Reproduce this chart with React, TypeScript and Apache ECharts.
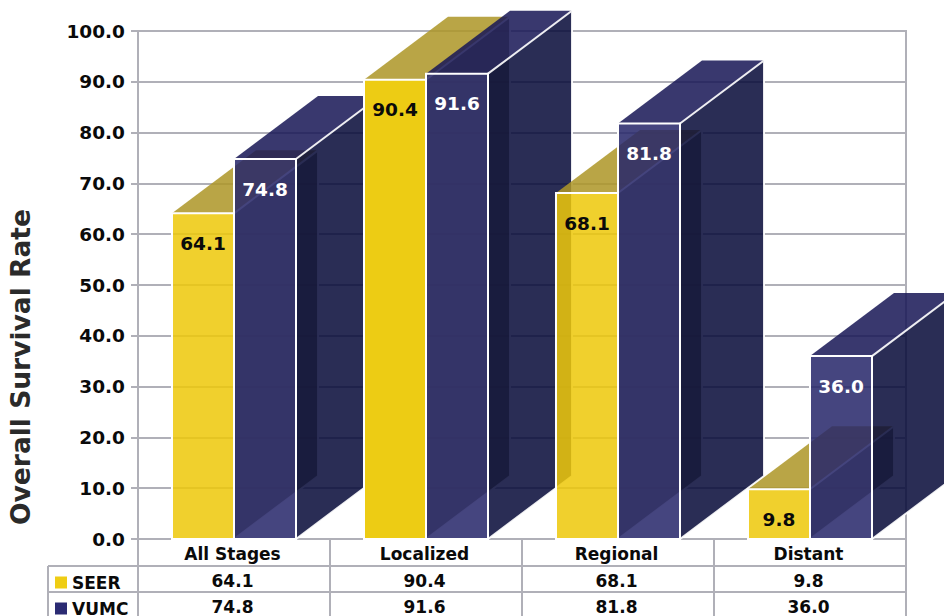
import React, { useEffect, useRef } from "react";
import * as echarts from "echarts";

const categories = ["All Stages", "Localized", "Regional", "Distant"];
const seerValues = [64.1, 90.4, 68.1, 9.8];
const vumcValues = [74.8, 91.6, 81.8, 36.0];
const yTicks = [0, 100, 10];

const FONT = '"DejaVu Sans", sans-serif';
const GRID = "#b0b0b8";
const DEPTH_X = 84;
const DEPTH_Y = 63;
const BAR_W = 62;
const OPAQUE_SEER_FRONT = "#edcc14";

type Palette = { front: string; side: string; top: string; ink: string };
const seerPalette: Palette = {
  front: "rgba(237,200,11,0.86)",
  side: "rgba(118,115,65,0.86)",
  top: "rgba(174,150,40,0.86)",
  ink: "#0a0a0a",
};
const vumcPalette: Palette = {
  front: "rgba(39,38,106,0.86)",
  side: "rgba(7,11,57,0.86)",
  top: "rgba(25,23,86,0.86)",
  ink: "#ffffff",
};

// A translucent cuboid standing on the baseline, drawn as top, side and front faces.
function boxRenderer(values: number[], palette: Palette, slot: number) {
  return (params: any, api: any) => {
    const i = params.dataIndex;
    const [cx, y] = api.coord([i, values[i]]);
    const [, y0] = api.coord([i, 0]);
    const x0 = cx + (slot - 1) * BAR_W;
    const x1 = x0 + BAR_W;
    const base = i * 10 + slot * 5;
    const poly = (points: number[][], fill: string, z: number, stroke?: string) => ({
      type: "polygon",
      z2: base + z,
      shape: { points },
      style: { fill, stroke: stroke || "none", lineWidth: stroke ? 2 : 0 },
    });
    // The Localized SEER column has a solid face, so nothing shows through it.
    const front = slot === 0 && i === 1 ? OPAQUE_SEER_FRONT : palette.front;
    return {
      type: "group",
      children: [
        poly(
          [[x0, y], [x1, y], [x1 + DEPTH_X, y - DEPTH_Y], [x0 + DEPTH_X, y - DEPTH_Y]],
          palette.top,
          0
        ),
        poly(
          [[x1, y], [x1 + DEPTH_X, y - DEPTH_Y], [x1 + DEPTH_X, y0 - DEPTH_Y], [x1, y0]],
          palette.side,
          1,
          "rgba(255,255,255,0.9)"
        ),
        poly([[x0, y], [x1, y], [x1, y0], [x0, y0]], front, 2, "#ffffff"),
        {
          type: "text",
          z2: 200,
          style: {
            text: values[i].toFixed(1),
            x: (x0 + x1) / 2,
            y: y + 30,
            align: "center",
            verticalAlign: "middle",
            fill: palette.ink,
            font: `bold 18.5px ${FONT}`,
          },
        },
      ],
    };
  };
}

// Data rows under the plot, aligned with the category axis.
function tableRowRenderer(params: any, api: any) {
  const i = params.dataIndex;
  const [cx, y0] = api.coord([i, 0]);
  const cell = (text: string, dy: number) => ({
    type: "text",
    style: {
      text,
      x: cx - 1.5,
      y: y0 + dy,
      align: "center",
      verticalAlign: "middle",
      fill: "#0a0a0a",
      font: `bold 17px ${FONT}`,
    },
  });
  return {
    type: "group",
    children: [cell(seerValues[i].toFixed(1), 42), cell(vumcValues[i].toFixed(1), 68)],
  };
}

const tableLine = (x1: number, y1: number, x2: number, y2: number) => ({
  type: "line",
  shape: { x1, y1, x2, y2 },
  style: { stroke: GRID, lineWidth: 2 },
  silent: true,
});

export default function App() {
  const ref = useRef<HTMLDivElement>(null);

  useEffect(() => {
    const chart = echarts.init(ref.current!, undefined, { renderer: "svg" });
    const indices = categories.map((_, i) => i);
    chart.setOption({
      animation: false,
      backgroundColor: "#ffffff",
      textStyle: { fontFamily: FONT },
      grid: {
        left: 138,
        right: 38,
        top: 31,
        bottom: 77,
        show: true,
        borderColor: GRID,
        borderWidth: 2,
        backgroundColor: "transparent",
      },
      legend: {
        data: ["SEER", "VUMC"],
        orient: "vertical",
        left: 55,
        top: 574,
        height: 120,
        itemWidth: 12,
        itemHeight: 12,
        itemGap: 9,
        icon: "rect",
        selectedMode: false,
        padding: 0,
        textStyle: { color: "#0a0a0a", fontWeight: "bold", fontSize: 17, fontFamily: FONT },
      },
      xAxis: {
        type: "category",
        data: categories,
        axisLine: { lineStyle: { color: GRID, width: 2 } },
        axisTick: { show: false },
        axisLabel: {
          color: "#0a0a0a",
          fontWeight: "bold",
          fontSize: 17,
          fontFamily: FONT,
          margin: 6,
          padding: [0, 3, 0, 0],
        },
      },
      yAxis: {
        type: "value",
        min: yTicks[0],
        max: yTicks[1],
        interval: yTicks[2],
        axisLine: { show: true, lineStyle: { color: GRID, width: 2 } },
        axisTick: { show: true, length: 7, lineStyle: { color: GRID, width: 2 } },
        splitLine: { lineStyle: { color: GRID, width: 2 } },
        axisLabel: {
          color: "#0a0a0a",
          fontWeight: "bold",
          fontSize: 18.5,
          fontFamily: FONT,
          margin: 13,
          formatter: (v: number) => v.toFixed(1),
        },
      },
      graphic: [
        {
          type: "text",
          x: 20,
          y: 367,
          rotation: Math.PI / 2,
          style: {
            text: "Overall Survival Rate",
            align: "center",
            verticalAlign: "middle",
            fill: "#2a2a2a",
            font: `bold 26.5px ${FONT}`,
          },
        },
        tableLine(48, 566, 906, 566),
        tableLine(48, 592, 906, 592),
        tableLine(48, 566, 48, 616),
        ...[138, 330, 522, 714, 906].map((x) => tableLine(x, 539, x, 616)),
      ],
      series: [
        {
          name: "SEER",
          type: "custom",
          renderItem: boxRenderer(seerValues, seerPalette, 0),
          data: seerValues.map((v, i) => [i, v]),
          itemStyle: { color: "#efcd14" },
          clip: false,
        },
        {
          name: "VUMC",
          type: "custom",
          renderItem: boxRenderer(vumcValues, vumcPalette, 1),
          data: vumcValues.map((v, i) => [i, v]),
          itemStyle: { color: "#2b2b73" },
          clip: false,
        },
        {
          name: "table",
          type: "custom",
          renderItem: tableRowRenderer,
          data: indices.map((i) => [i, 0]),
          clip: false,
          silent: true,
        },
      ],
    });
    return () => chart.dispose();
  }, []);

  return <div ref={ref} style={{ position: "fixed", left: 0, top: 0, width: 944, height: 616 }} />;
}
